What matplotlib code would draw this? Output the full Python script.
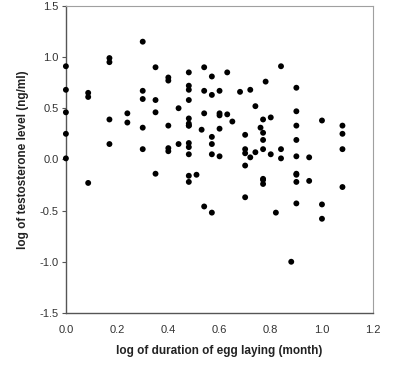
import matplotlib
matplotlib.use('Agg')
import matplotlib.pyplot as plt
import numpy as np

plt.rcParams['font.family'] = ['Liberation Sans', 'DejaVu Sans']

# log duration of egg laying (month)
x_dur = [0.00, 0.00, 0.00, 0.00, 0.00,
         0.087, 0.087, 0.087,
         0.17, 0.17, 0.17, 0.17,
         0.24, 0.24,
         0.30, 0.30, 0.30, 0.30, 0.30,
         0.35, 0.35, 0.35, 0.35,
         0.40, 0.40, 0.40, 0.40, 0.40,
         0.44, 0.44,
         0.48, 0.48, 0.48, 0.48, 0.48, 0.48, 0.48, 0.48, 0.48, 0.48, 0.48, 0.48, 0.48,
         0.51,
         0.53,
         0.54, 0.54, 0.54, 0.54,
         0.57, 0.57, 0.57, 0.57, 0.57, 0.57,
         0.60, 0.60, 0.60, 0.60, 0.60,
         0.63, 0.63,
         0.65,
         0.68,
         0.70, 0.70, 0.70, 0.70, 0.70,
         0.72, 0.72,
         0.74, 0.74,
         0.76,
         0.77, 0.77, 0.77, 0.77, 0.77, 0.77, 0.77,
         0.78,
         0.80, 0.80,
         0.82,
         0.84, 0.84, 0.84,
         0.88,
         0.90, 0.90, 0.90, 0.90, 0.90, 0.90, 0.90, 0.90, 0.90,
         0.95, 0.95,
         1.00, 1.00, 1.00,
         1.08, 1.08, 1.08, 1.08]

# log testosterone level (ng/ml)
y_tes = [0.91, 0.68, 0.46, 0.25, 0.01,
         0.65, 0.61, -0.23,
         0.99, 0.95, 0.39, 0.15,
         0.45, 0.36,
         1.15, 0.67, 0.59, 0.31, 0.10,
         0.90, 0.58, 0.46, -0.14,
         0.80, 0.77, 0.33, 0.11, 0.08,
         0.50, 0.15,
         0.85, 0.72, 0.68, 0.58, 0.40, 0.35, 0.33, 0.16, 0.12, 0.05, -0.16, -0.22, 0.33,
         -0.15,
         0.29,
         0.90, 0.67, 0.45, -0.46,
         0.81, 0.63, 0.22, 0.15, 0.05, -0.52,
         0.67, 0.45, 0.43, 0.30, 0.03,
         0.85, 0.44,
         0.37,
         0.66,
         0.24, 0.10, 0.06, -0.06, -0.37,
         0.68, 0.02,
         0.52, 0.07,
         0.31,
         0.39, 0.26, 0.19, 0.10, -0.19, -0.20, -0.24,
         0.76,
         0.41, 0.05,
         -0.52,
         0.91, 0.10, 0.01,
         -1.00,
         0.70, 0.47, 0.33, 0.19, 0.03, -0.14, -0.15, -0.22, -0.43,
         0.02, -0.21,
         0.38, -0.44, -0.58,
         0.33, 0.25, 0.10, -0.27]

fig = plt.figure(figsize=(3.97, 3.66), dpi=100)
ax = fig.add_axes([0.166, 0.145, 0.774, 0.839])

ax.scatter(x_dur, y_tes, s=18, c='black', edgecolors='none', zorder=3, clip_on=False)

ax.set_xlim(0, 1.2)
ax.set_ylim(-1.5, 1.5)
ax.set_xticks(np.arange(0, 1.21, 0.2))
ax.set_yticks(np.arange(-1.5, 1.51, 0.5))
ax.set_xticklabels(['%.1f' % v for v in np.arange(0, 1.21, 0.2)])
ax.set_yticklabels(['%.1f' % v for v in np.arange(-1.5, 1.51, 0.5)])

ax.tick_params(axis='y', direction='out', length=3, width=0.8, color='#555555',
               labelsize=8, labelcolor='#333333', pad=2)
ax.tick_params(axis='x', length=0, labelsize=8, labelcolor='#333333', pad=9)

for side in ['left', 'bottom']:
    ax.spines[side].set_color('#555555')
    ax.spines[side].set_linewidth(1.0)
for side in ['top', 'right']:
    ax.spines[side].set_color('#a0a0a0')
    ax.spines[side].set_linewidth(0.8)

ax.set_xlabel('log of duration of egg laying (month)', fontsize=8.5, fontweight='bold',
              color='#222222', labelpad=7)
ax.set_ylabel('log of testosterone level (ng/ml)', fontsize=8.5, fontweight='bold',
              color='#222222', labelpad=8)

fig.savefig('out.png', dpi=100)
